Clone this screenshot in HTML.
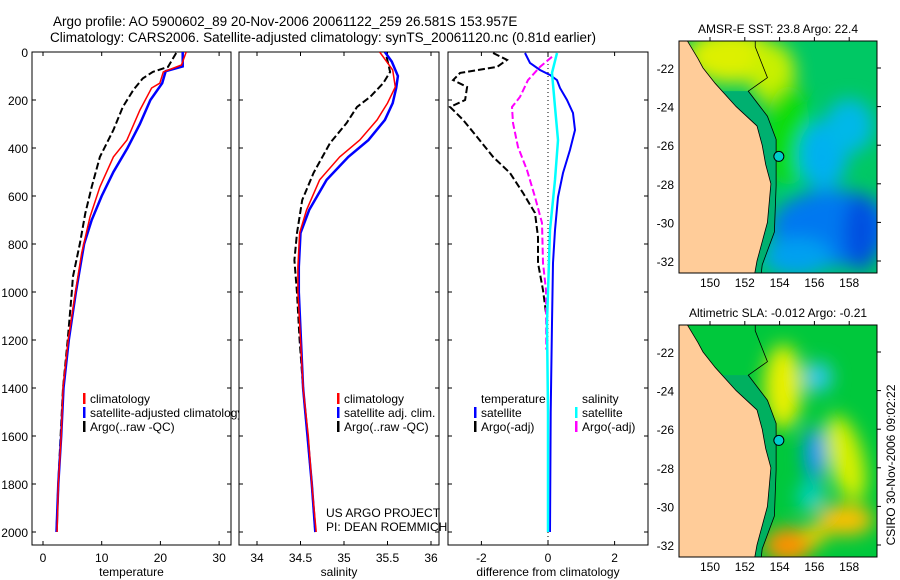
<!DOCTYPE html>
<html><head><meta charset="utf-8"><style>
body{margin:0;background:#fff;}
svg{display:block;font-family:"Liberation Sans",sans-serif;}
</style></head><body>
<svg id="fig" width="900" height="580" viewBox="0 0 900 580" xmlns="http://www.w3.org/2000/svg">
<defs>
<filter id="blur" x="-50%" y="-50%" width="200%" height="200%"><feGaussianBlur stdDeviation="9"/></filter>
<clipPath id="m1c"><rect x="679" y="41" width="198" height="232"/></clipPath>
<clipPath id="m2c"><rect x="679" y="325" width="198" height="232"/></clipPath>
<clipPath id="p1c"><rect x="32" y="52" width="199" height="493"/></clipPath>
<clipPath id="p2c"><rect x="239" y="52" width="200" height="493"/></clipPath>
<clipPath id="p3c"><rect x="448" y="52" width="200" height="493"/></clipPath>
</defs>
<text x="53" y="26" font-size="13.5">Argo profile: AO 5900602_89 20-Nov-2006 20061122_259 26.581S 153.957E</text>
<text x="50" y="42" font-size="13.5">Climatology: CARS2006. Satellite-adjusted climatology: synTS_20061120.nc (0.81d earlier)</text>
<g id="panels"></g>
<g id="maps"></g>
<text transform="translate(895,465) rotate(-90)" text-anchor="middle" font-size="12">CSIRO 30-Nov-2006 09:02:22</text>
</svg>
<script>
// ---- data (depth in m) ----
const tClimD=[0,54,83,130,150,242,367,437,562,687,837,1004,1200,1400,1600,1800,2000];
const tClimV=[24.4,23.6,20.5,19.9,18.5,16.5,14.3,12,9.7,8,6.6,5.5,4.3,3.4,3.1,2.6,2.4];
const tSatD=[0,60,80,130,200,300,400,500,600,700,800,1000,1200,1400,1600,1800,2000];
const tSatV=[23.8,23.8,20.9,20.3,18.3,16.5,14.4,12.0,10.0,8.3,7.0,5.6,4.4,3.5,3.1,2.6,2.3];
const tArgoD=[4,62,83,110,158,229,325,437,562,672,796,937,1000,1200,1400,1600,1800,2000];
const tArgoV=[22.7,21.3,18.7,17,15.4,13.6,12,9.7,8.3,7.2,6.3,5.1,4.9,4.2,3.4,3.0,2.6,2.3];
const sClimD=[0,40,75,146,213,283,367,437,533,658,754,896,1000,1400,1600,1800,2000];
const sClimV=[35.41,35.49,35.56,35.59,35.5,35.38,35.18,34.95,34.72,34.57,34.49,34.47,34.47,34.53,34.59,34.63,34.68];
const sSatD=[0,40,100,150,213,283,367,437,533,658,754,896,1000,1400,1600,1800,2000];
const sSatV=[35.47,35.55,35.62,35.6,35.56,35.47,35.28,35.05,34.8,34.6,34.5,34.48,34.48,34.53,34.58,34.63,34.67];
const sArgoD=[20,83,130,187,229,296,379,504,617,754,867,1004,1200,1400,1600,1800,2000];
const sArgoV=[35.49,35.53,35.45,35.3,35.15,35.03,34.84,34.65,34.52,34.46,34.43,34.46,34.49,34.53,34.58,34.63,34.67];
const dTSatD=[4,46,75,96,117,150,200,254,325,408,504,604,742,879,1129,1500,2000];
const dTSatV=[-0.69,-0.54,-0.24,0.06,0.27,0.36,0.57,0.75,0.81,0.66,0.45,0.3,0.21,0.15,0.12,0.08,0.06];
const dSSatD=[4,87,229,367,533,742,1129,1500,2000];
const dSSatV=[0.27,0.12,0.21,0.3,0.21,0.06,-0.03,0.0,0.0];
const dSArgoD=[20,62,117,187,229,296,396,492,604,712,879,992,1240];
const dSArgoV=[0.12,-0.24,-0.6,-0.84,-1.08,-1.05,-0.9,-0.63,-0.39,-0.18,-0.15,-0.06,-0.05];
const dTArgoD=[4,33,62,87,117,146,200,229,283,354,437,504,587,671,771,879,992,1087];
const dTArgoV=[-1.65,-1.23,-1.53,-2.64,-2.85,-2.43,-2.49,-2.94,-2.55,-2.13,-1.65,-1.14,-0.75,-0.39,-0.3,-0.3,-0.15,-0.06];
const depthTicks=[0,200,400,600,800,1000,1200,1400,1600,1800,2000];
const tTicks=[0,10,20,30], sTicks=[34,34.5,35,35.5,36], dTicks=[-2,0,2];
const lonTicks=[150,152,154,156,158], latTicks=[-22,-24,-26,-28,-30,-32];

const NS='http://www.w3.org/2000/svg';
const G=document.getElementById('panels');
function el(tag,attrs,parent){const e=document.createElementNS(NS,tag);for(const k in attrs)e.setAttribute(k,attrs[k]);(parent||G).appendChild(e);return e;}
const yD=d=>52+d*0.24;
const xT=v=>43+v*5.87, xS=v=>257+(v-34)*87, xDf=v=>548+v*33.3;

function panel(x0,w,xf,ticks,label,name,leftLabels){
  const g=el('g',{});
  
  
  const r=el('rect',{x:x0,y:52,width:w,height:493,fill:'#fff',stroke:'#000','stroke-width':1},g);
  
  
  depthTicks.forEach(d=>{
    el('line',{x1:x0,x2:x0+4,y1:yD(d),y2:yD(d),stroke:'#000'},g);
    el('line',{x1:x0+w-4,x2:x0+w,y1:yD(d),y2:yD(d),stroke:'#000'},g);
    if(leftLabels){const t=el('text',{x:x0-4,y:yD(d)+5,'text-anchor':'end','font-size':12},g);t.textContent=d;
      
      }
  });
  ticks.forEach(v=>{
    el('line',{x1:xf(v),x2:xf(v),y1:52,y2:56,stroke:'#000'},g);
    el('line',{x1:xf(v),x2:xf(v),y1:541,y2:545,stroke:'#000'},g);
    const t=el('text',{x:xf(v),y:562,'text-anchor':'middle','font-size':12},g);t.textContent=v;
    
    
  });
  const lb=el('text',{x:x0+w/2,y:576,'text-anchor':'middle','font-size':12},g);lb.textContent=label;
  
  
  return g;
}
function line(D,V,xf,color,dash,clip,name,width){
  const pts=D.map((d,i)=>xf(V[i]).toFixed(1)+','+yD(d).toFixed(1)).join(' ');
  const p=el('polyline',{points:pts,fill:'none',stroke:color,'stroke-width':width||2,'clip-path':'url(#'+clip+')'});
  if(dash)p.setAttribute('stroke-dasharray',dash);
  
  
}
function legend(x,y,color,text){
  if(color){const b=el('rect',{x:x,y:y-10,width:2.5,height:11,fill:color});
    
    }
  const t=el('text',{x:x+7,y:y,'font-size':12});t.textContent=text;
  
  
}
// Panel 1
panel(32,199,xT,tTicks,'temperature','temperature-panel',true);
line(tArgoD,tArgoV,xT,'#000','7,3','p1c','temp-argo-line');
line(tSatD,tSatV,xT,'#0000ff',null,'p1c','temp-satellite-line',2.5);
line(tClimD,tClimV,xT,'#ff0000',null,'p1c','temp-climatology-line',1.5);
legend(83,403,'#ff0000','climatology');
legend(83,417,'#0000ff','satellite-adjusted climatology');
legend(83,431,'#000','Argo(..raw -QC)');
// Panel 2
panel(239,200,xS,sTicks,'salinity','salinity-panel',false);
line(sArgoD,sArgoV,xS,'#000','7,3','p2c','sal-argo-line');
line(sSatD,sSatV,xS,'#0000ff',null,'p2c','sal-satellite-line',2.5);
line(sClimD,sClimV,xS,'#ff0000',null,'p2c','sal-climatology-line',1.5);
legend(337,403,'#ff0000','climatology');
legend(337,417,'#0000ff','satellite adj. clim.');
legend(337,431,'#000','Argo(..raw -QC)');
legend(319,517,null,'US ARGO PROJECT');
legend(319,531,null,'PI: DEAN ROEMMICH');
// Panel 3
panel(448,200,xDf,dTicks,'difference from climatology','difference-panel',false);
const z=el('line',{x1:548,x2:548,y1:52,y2:545,stroke:'#000','stroke-dasharray':'1,3'});


line(dTArgoD,dTArgoV,xDf,'#000','7,3','p3c','dtemp-argo-line');
line(dSArgoD,dSArgoV,xDf,'#ff00ff','7,3','p3c','dsal-argo-line');
line(dTSatD,dTSatV,xDf,'#0000ff',null,'p3c','dtemp-satellite-line',2);
line(dSSatD,dSSatV,xDf,'#00ffff',null,'p3c','dsal-satellite-line',2.5);
legend(474,403,null,'temperature');
legend(474,417,'#0000ff','satellite');
legend(474,431,'#000','Argo(-adj)');
legend(575,403,null,'salinity');
legend(575,417,'#00ffff','satellite');
legend(575,431,'#ff00ff','Argo(-adj)');

// ---- maps ----
const M=document.getElementById('maps');
function map(y0,clip,blobs,title,name,latY22,latY32){
  const g=el('g',{},M);
  
  
  const lx=lon=>710+(lon-150)*17.4;
  const ly=lat=>latY22+(-22-lat)*(latY32-latY22)/10;
  const inner=el('g',{'clip-path':'url(#'+clip+')'},g);
  el('rect',{x:679,y:y0,width:198,height:232,fill:blobs.base},inner);
  const bg=el('g',{filter:'url(#blur)'},inner);
  blobs.list.forEach(b=>el('ellipse',{cx:lx(b[0]),cy:ly(b[1]),rx:b[2]*17.4,ry:b[3]*19.3,fill:b[4],transform:'rotate('+(b[5]||0)+' '+lx(b[0])+' '+ly(b[1])+')'},bg));
  const coast=[[148,-20],[148.7,-20.6],[149.3,-21.5],[149.6,-22],[150.3,-22.8],[151.5,-24],[152.7,-25],[153.0,-26],[153.2,-27],[153.5,-28],[153.4,-29],[153.3,-30],[153.0,-31],[152.7,-32],[152.5,-33],[148,-33]];
  const shelf=[[152.6,-20],[152.6,-20.9],[153.3,-22.5],[152.2,-23.2],[153.3,-24.5],[153.8,-25.7],[153.8,-28.1],[153.7,-30.5],[153.0,-32.2],[152.9,-33]];
  const shelfFill=shelf.slice(3);
  const sp=el('polygon',{points:shelfFill.map(c=>lx(c[0])+','+ly(c[1])).join(' ')+' '+lx(148)+','+ly(-33)+' '+lx(150.7,0)+','+ly(-23.2),fill:blobs.shelf},inner);
  
  
  const land=el('polygon',{points:coast.map(c=>lx(c[0])+','+ly(c[1])).join(' '),fill:'#ffcc99',stroke:'#000','stroke-width':0.8},inner);
  
  
  el('polyline',{points:shelf.map(c=>lx(c[0])+','+ly(c[1])).join(' '),fill:'none',stroke:'#000','stroke-width':0.8},inner);
  const dot=el('circle',{cx:lx(153.957),cy:ly(-26.581),r:5,fill:'#00cccc',stroke:'#000'},g);
  
  
  el('rect',{x:679,y:y0,width:198,height:232,fill:'none',stroke:'#000'},g);
  lonTicks.forEach(v=>{el('line',{x1:lx(v),x2:lx(v),y1:y0,y2:y0-4,stroke:'#000'},g);
    const t=el('text',{x:lx(v),y:y0+246,'text-anchor':'middle','font-size':12},g);t.textContent=v;
    
    });
  latTicks.forEach(v=>{el('line',{x1:877,x2:881,y1:ly(v),y2:ly(v),stroke:'#000'},g);
    const t=el('text',{x:674,y:ly(v)+5,'text-anchor':'end','font-size':12},g);t.textContent=v;
    
    });
  const tt=el('text',{x:778,y:y0-8,'text-anchor':'middle','font-size':12},g);tt.textContent=title;
  
  
}
map(41,'m1c',{base:'#00c864',shelf:'#00b070',list:[
 [151.2,-21.4,2.6,1.4,'#ddf000'],[153.6,-22.3,1.3,1.6,'#c8f000'],[154.5,-25.5,1.3,2.6,'#10dd10'],
 [156.5,-26.5,1.4,1.8,'#00b0f0'],[158,-25,1.4,1.4,'#00b8e8'],[157,-30.3,3.5,2,'#0078f0'],
 [158.7,-30.5,1,2,'#0050e0'],[155,-31.8,2,1,'#00a0f0']]},'AMSR-E SST: 23.8 Argo: 22.4','sst-map',68,261);
map(325,'m2c',{base:'#00c83c',shelf:'#00b060',list:[
 [154.2,-23.8,1.1,2.2,'#e8f000'],[157.8,-27.5,1,2.3,'#d8f000',-15],[156.2,-23.3,0.8,0.8,'#30c8f0'],
 [156,-27.3,0.6,1.4,'#1090ff'],[155.8,-29.5,0.8,0.8,'#00d0c0'],[157.8,-30.7,1.6,0.8,'#ffc000'],
 [154.5,-32,1.4,0.9,'#ff9000'],[156,-31.5,0.7,0.5,'#ffd000']]},'Altimetric SLA: -0.012 Argo: -0.21','sla-map',352,545);
</script>
</body></html>
